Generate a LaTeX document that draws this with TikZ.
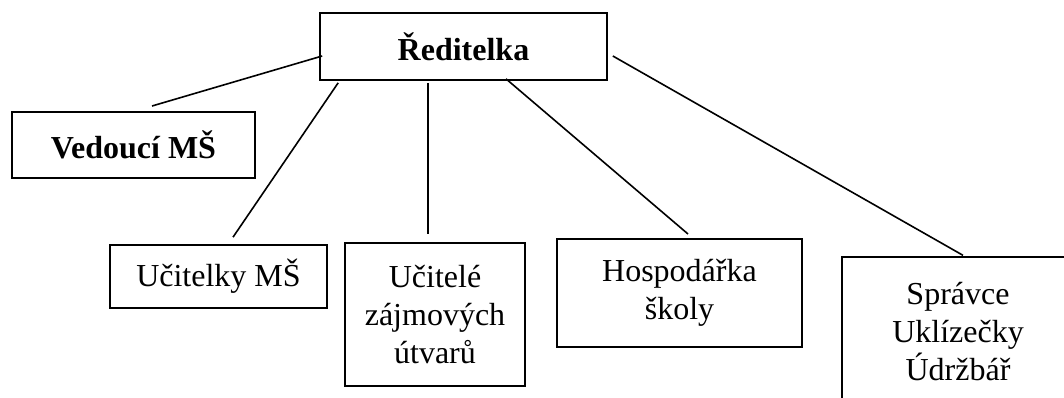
\documentclass[tikz,border=0pt]{standalone}
\usepackage{fontspec}
\setmainfont{Liberation Serif}
\usepackage{tikz}
\usetikzlibrary{calc}

\begin{document}
\begin{tikzpicture}[x=0.75pt,y=-0.75pt,
		box/.style={draw, line width=1.5pt, rectangle, align=center, inner sep=0pt, font=\fontsize{24}{28.5}\selectfont},
		link/.style={line width=1.2pt}]
		\path[use as bounding box, clip] (0,0) rectangle (1064,397);
		% boxes
		\node[box, minimum width=215pt, minimum height=50pt, font=\fontsize{24}{28.5}\selectfont\bfseries] (red) at (463.5,46.5) {Ředitelka};
		\node[box, minimum width=182pt, minimum height=49.5pt, font=\fontsize{24}{28.5}\selectfont\bfseries] (ved) at (133.5,145) {Vedoucí MŠ};
		\node[box, minimum width=163pt, minimum height=47pt] (ucm) at (218.5,276.5) {Učitelky MŠ};
		\node[box, minimum width=135pt, minimum height=107pt] (ucz) at (435,314.5) {Učitelé\\zájmových\\útvarů};
		\node[box, minimum width=184pt, minimum height=81pt] (hosp) at (679.5,293) {Hospodářka\\školy};
		\node[box, minimum width=174pt, minimum height=112pt] (spr) at (958,332) {Správce\\Uklízečky\\Údržbář};
		% lines
		\draw[link] ($(red.west)+(3,9.5)$) -- ($(ved.north)+(18.5,-5)$);
		\draw[link] ($(red.south west)+(19,2)$) -- ($(ucm.north)+(14.5,-7)$);
		\draw[link] ($(red.south)+(-35.5,2)$) -- ($(ucz.north)+(-7,-8)$);
		\draw[link] ($(red.south)+(42.5,-2)$) -- ($(hosp.north)+(8.5,-4)$);
		\draw[link] ($(red.east)+(5,9.5)$) -- ($(spr.north)+(5,-1)$);
\end{tikzpicture}
\end{document}
